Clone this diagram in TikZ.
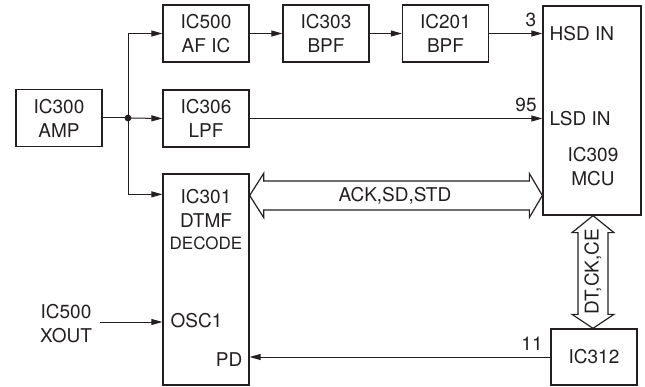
\documentclass[tikz,border=0pt]{standalone}
\usepackage{fontspec}
\setmainfont{TeX Gyre Heros}
\usetikzlibrary{arrows.meta,calc}
\definecolor{ink}{HTML}{231F20}
\begin{document}
\begin{tikzpicture}[x=1pt,y=-1pt,
  box/.style={draw=ink,line width=1.3pt,minimum width=86pt,minimum height=57pt,inner sep=0pt,align=center,text=ink,
     font=\fontsize{19}{24}\selectfont},
  lbl/.style={inner sep=0pt,text=ink,font=\fontsize{19}{24}\selectfont,align=center},
  arr/.style={draw=ink,line width=1pt,-{Triangle[length=11pt,width=6pt]}},
  wire/.style={draw=ink,line width=1pt},
  fat/.style={draw=ink,line width=1.2pt,line join=miter}]
\useasboundingbox (0,0) rectangle (645,387);
% boxes
\node[box] (amp) at (59,118) {IC300\\AMP};
\node[box] (afic) at (206,33.5) {IC500\\AF IC};
\node[box] (bpfa) at (326,33.5) {IC303\\BPF};
\node[box] (bpfb) at (445.5,33.5) {IC201\\BPF};
\node[box] (lpf) at (206,118.5) {IC306\\LPF};
\node[box,minimum height=211pt] (dtmf) at (206,279.5) {};
\node[box,minimum width=98pt,minimum height=209pt] (mcu) at (592,110.5) {};
\node[box,minimum height=56pt] (ic312) at (594,357) {IC312};
% texts inside tall boxes
\node[lbl,anchor=west] (hsd) at (549.5,34) {HSD IN};
\node[lbl,anchor=west] (lsd) at (549.5,119) {LSD IN};
\node[lbl] (mcut) at (593,166.5) {IC309\\MCU};
\node[lbl] (dtmft) at (206,219.5) {IC301\\DTMF\\[-1.5pt]{\fontsize{17}{20}\selectfont DECODE}};
\node[lbl,anchor=west] (osc) at (170.5,320.5) {OSC1};
\node[lbl,anchor=east] (pd) at (242.5,359.5) {PD};
\node[lbl,inner xsep=7.5pt] (xout) at (66,324) {IC500\\XOUT};
% connectors
\coordinate (j) at (128,118);
\draw[wire] (amp.east) -- (j);
\fill[ink] (j) circle (3.4pt);
\draw[arr] (j) -- (lpf.west);
\draw[arr] (j) |- (afic.west);
\coordinate (din) at ($(dtmf.north west)+(0,21)$);
\draw[arr] (j) |- (din);
\draw[arr] (afic.east) -- (bpfa.west);
\draw[arr] (bpfa.east) -- (bpfb.west);
\draw[arr] (bpfb.east) -- (mcu.west |- bpfb.east);
\draw[arr] (lpf.east) -- (mcu.west |- lpf.east);
\coordinate (oscin) at (dtmf.west |- 0,322);
\draw[arr] (xout.east |- oscin) -- (oscin);
\draw[arr] (ic312.west) -- (dtmf.east |- ic312.west);
\node[lbl] (n3) at (531,19.5) {3};
\node[lbl] (n95) at (526,105) {95};
\node[lbl] (n11) at (532,344) {11};
% horizontal double arrow
\coordinate (hl) at (dtmf.east |- 0,195.5);
\coordinate (hr) at (mcu.west |- hl);
\draw[fat] (hl) -- ++(14,-22) -- ++(0,7.5) -- ($(hr)+(-13,-14.5)$) -- ++(0,-7.5) -- (hr)
  -- ++(-13,22) -- ++(0,-7.5) -- ($(hl)+(14,14.5)$) -- ++(0,7.5) -- cycle;
\node[lbl] (ack) at (395,196) {ACK,SD,STD};
% vertical double arrow
\coordinate (vt) at ($(mcu.south)+(1,0)$);
\coordinate (vb) at (vt |- ic312.north);
\draw[fat] (vt) -- ++(21,17) -- ++(-6,0) -- ($(vb)+(15,-14)$) -- ++(6,0) -- (vb)
  -- ++(-21,-14) -- ++(6,0) -- ($(vt)+(-15,17)$) -- ++(-6,0) -- cycle;
\node[lbl,rotate=90] (dck) at ($(vt)!0.5!(vb)$) {DT,CK,CE};
\end{tikzpicture}
\end{document}
